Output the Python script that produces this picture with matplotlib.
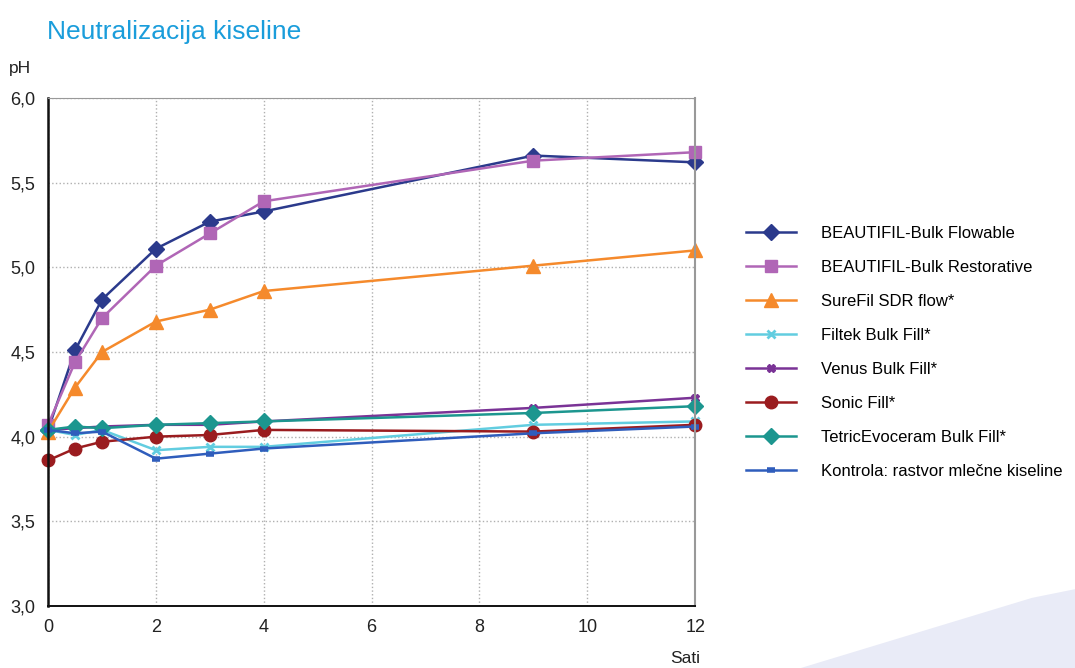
import numpy as np
import matplotlib
matplotlib.use('Agg')
import matplotlib.pyplot as plt
from matplotlib.patches import Polygon

# hours of measurement
hours = [0, 0.5, 1, 2, 3, 4, 9, 12]

# pH values per material
flowable = [4.04, 4.51, 4.81, 5.11, 5.27, 5.33, 5.66, 5.62]
restorative = [4.07, 4.44, 4.70, 5.01, 5.20, 5.39, 5.63, 5.68]
surefil = [4.03, 4.29, 4.50, 4.68, 4.75, 4.86, 5.01, 5.10]
filtek = [4.04, 4.01, 4.04, 3.92, 3.94, 3.94, 4.07, 4.09]
venus = [4.04, 4.05, 4.06, 4.07, 4.07, 4.09, 4.17, 4.23]
sonic = [3.86, 3.93, 3.97, 4.00, 4.01, 4.04, 4.03, 4.07]
tetric = [4.04, 4.06, 4.05, 4.07, 4.08, 4.09, 4.14, 4.18]
kontrola = [4.04, 4.02, 4.03, 3.87, 3.90, 3.93, 4.02, 4.06]

labels = ['BEAUTIFIL-Bulk Flowable', 'BEAUTIFIL-Bulk Restorative', 'SureFil SDR flow*',
          'Filtek Bulk Fill*', 'Venus Bulk Fill*', 'Sonic Fill*',
          'TetricEvoceram Bulk Fill*', 'Kontrola: rastvor mlečne kiseline']

plt.rcParams['font.family'] = ['Liberation Sans', 'DejaVu Sans']

fig = plt.figure(figsize=(10.75, 6.68), dpi=100)

# light decoration in the lower right corner
deco = Polygon([[0.745, 0.0], [1.0, 0.0], [1.0, 0.118], [0.96, 0.105], [0.745, 0.0]],
               closed=True, transform=fig.transFigure, facecolor='#e9ebf7',
               edgecolor='none', zorder=0)
fig.patches.append(deco)

ax = fig.add_axes([0.0447, 0.0928, 0.602, 0.7605])

series = [
    (flowable, '#2b3a8c', 'D', 8, {}),
    (restorative, '#b066b6', 's', 8, {}),
    (surefil, '#f58a2c', '^', 10, {}),
    (filtek, '#62cde0', 'x', 6, {'markeredgewidth': 2}),
    (venus, '#7a3396', 'X', 6, {}),
    (sonic, '#9a1c1f', 'o', 9, {}),
    (tetric, '#1c968f', 'D', 8, {}),
    (kontrola, '#2f5dbc', '_', 6, {'markeredgewidth': 4}),
]

for (vals, col, mk, ms, extra), lab in zip(series, labels):
    ax.plot(hours, vals, color=col, marker=mk, markersize=ms, linewidth=1.8,
            label=lab, clip_on=False, **extra)

ax.set_xlim(0, 12)
ax.set_ylim(3.0, 6.0)
ax.set_xticks(range(0, 13, 2))
ax.set_yticks(np.arange(3.0, 6.01, 0.5))
ax.set_yticklabels([('%.1f' % v).replace('.', ',') for v in np.arange(3.0, 6.01, 0.5)])
ax.tick_params(length=0, labelsize=13, colors='#222222', pad=9)

ax.grid(True, linestyle=':', color='#b0b0b0', linewidth=1)
ax.spines['left'].set_color('#111111')
ax.spines['left'].set_linewidth(1.8)
ax.spines['bottom'].set_color('#111111')
ax.spines['bottom'].set_linewidth(1.4)
ax.spines['top'].set_color('#999999')
ax.spines['right'].set_color('#999999')
ax.spines['right'].set_linewidth(1.5)

fig.text(0.044, 0.952, 'Neutralizacija kiseline', fontsize=19, color='#1a9ddb', va='center')
fig.text(0.008, 0.898, 'pH', fontsize=12.5, color='#222222', va='center')
fig.text(0.637, 0.003, 'Sati', fontsize=12.5, color='#222222', va='bottom', ha='center')

ax.legend(loc='upper left', bbox_to_anchor=(0.688, 0.672), bbox_transform=fig.transFigure,
          frameon=False, fontsize=12, handlelength=3.0, handletextpad=1.5,
          labelspacing=1.14, borderaxespad=0)

plt.savefig('out.png', dpi=100)
